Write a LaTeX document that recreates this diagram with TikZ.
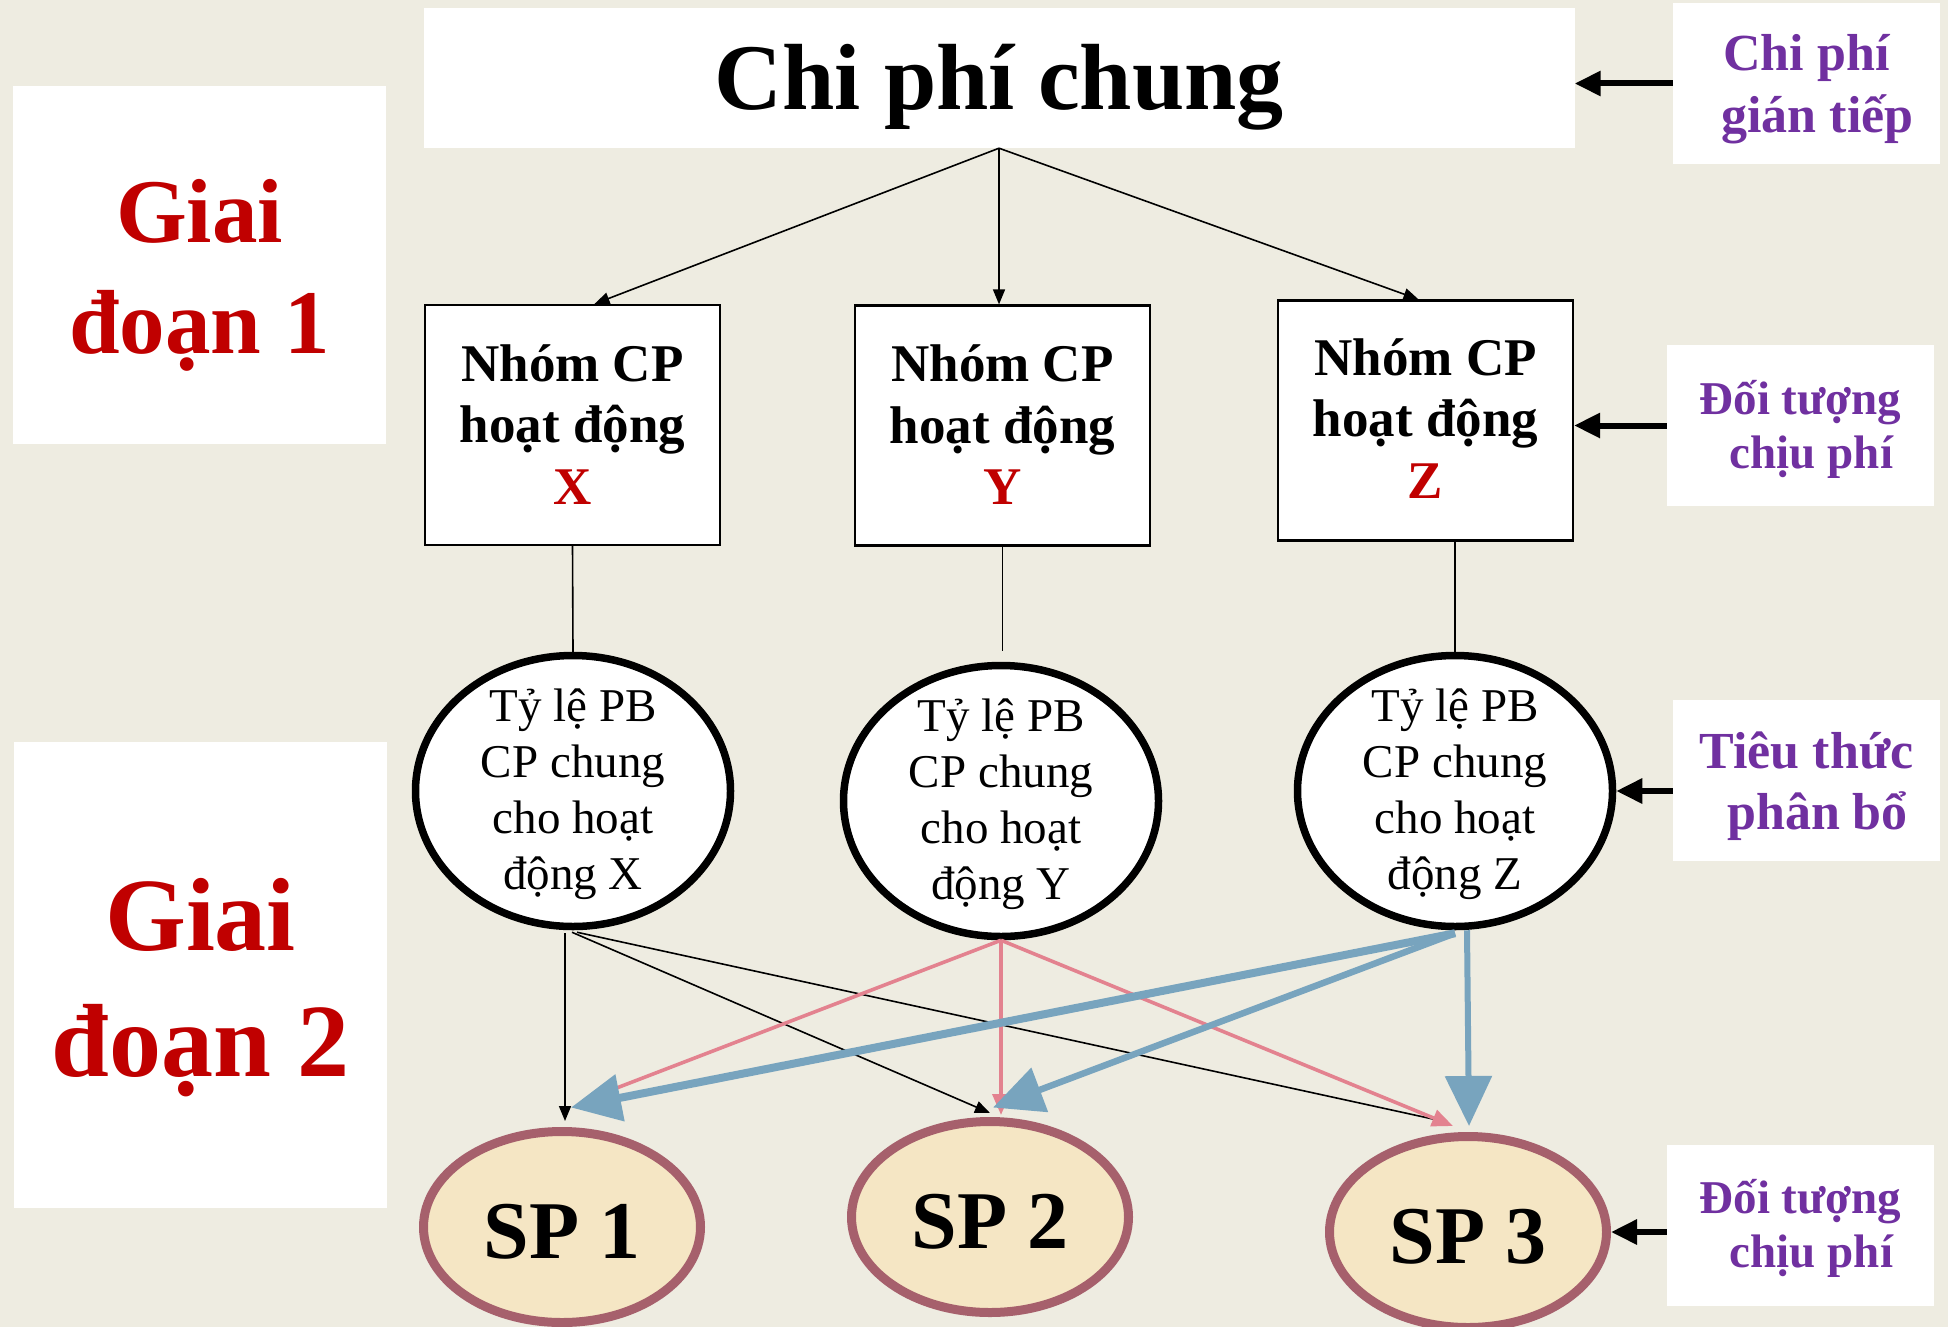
\documentclass[tikz,border=0pt]{standalone}
\usepackage{fontspec}
\setmainfont{Liberation Serif}
\usetikzlibrary{shapes.geometric,arrows.meta,calc}
\definecolor{pagetan}{HTML}{EEECE1}
\definecolor{stagered}{HTML}{C00000}
\definecolor{notepurple}{HTML}{7030A0}
\definecolor{prodfill}{HTML}{F5E6C4}
\definecolor{prodedge}{HTML}{A6606C}
\definecolor{linkpink}{HTML}{E3828F}
\definecolor{linkblue}{HTML}{78A4BE}
\newcommand\fsz[2]{\fontsize{#1pt}{#2pt}\selectfont}
% indent for the second line of the side notes
\newcommand\noteindent{\hspace*{22pt}}

\begin{document}
\begin{tikzpicture}[x=1pt,y=-1pt,
  % the last baseline of a multi-line text sits half of #1 below the node centre
  lastbase/.style={text height=#1, text depth=0pt},
  stagebox/.style={fill=white, inner sep=0pt, minimum width=373pt, align=center,
    text=stagered, font=\bfseries},
  notebox/.style={fill=white, inner sep=0pt, minimum width=267pt, minimum height=161pt,
    align=center, text=notepurple, font=\bfseries},
  poolbox/.style={draw, line width=2.2pt, fill=white, inner sep=0pt, minimum width=295pt,
    minimum height=240pt, align=center, font=\bfseries\fsz{53}{61.5}, lastbase=158pt},
  ratebubble/.style={ellipse, draw, line width=7.5pt, fill=white, inner xsep=0pt,
    inner ysep=-12pt, minimum width=315pt, minimum height=271pt, align=center,
    font=\fsz{47}{56}, lastbase=196pt},
  product/.style={ellipse, draw=prodedge, line width=9pt, fill=prodfill, inner sep=0pt,
    minimum width=277pt, minimum height=191pt, font=\bfseries\fsz{82}{98},
    text height=62pt, text depth=0pt},
  flowarrow/.style={line width=1.6pt, -{Triangle[length=15pt,width=12pt]}},
  plainlink/.style={line width=1.6pt},
  pinkarrow/.style={linkpink, line width=3.6pt, -{Triangle[length=21pt,width=17pt]}},
  bluearrow/.style={linkblue, -{Triangle[length=50pt,width=46pt]}},
  notearrow/.style={line width=6pt, -{Triangle[length=26pt,width=24pt]}}
]
\useasboundingbox (0,0) rectangle (1948,1327);
\fill[pagetan] (0,0) rectangle (1948,1327);

% stage labels on the left
\node[stagebox, minimum height=358pt, lastbase=176pt, font=\bfseries\fsz{91}{111}]
  (st1) at (199.5,265) {Giai\\đoạn 1};
\node[stagebox, minimum height=466pt, lastbase=202pt, font=\bfseries\fsz{104}{126}]
  (st2) at (200.5,975) {Giai\\đoạn 2};

% overhead cost pool
\node[fill=white, inner sep=0pt, minimum width=1151pt, minimum height=140pt,
  font=\bfseries\fsz{94}{110}, text height=64pt, text depth=0pt]
  (top) at (999,78) {Chi phí chung};

% side notes
\node[notebox, lastbase=97pt, font=\bfseries\fsz{52}{62}] (n1) at (1806.5,83.5)
  {Chi phí\\\noteindent gián tiếp};
\node[notebox, lastbase=85pt, font=\bfseries\fsz{47}{54}] (n2) at (1800.5,425.5)
  {Đối tượng\\\noteindent chịu phí};
\node[notebox, lastbase=97pt, font=\bfseries\fsz{52}{61}] (n3) at (1806.5,780.5)
  {Tiêu thức\\\noteindent phân bổ};
\node[notebox, lastbase=84pt, font=\bfseries\fsz{47}{54}] (n4) at (1800.5,1225.5)
  {Đối tượng\\\noteindent chịu phí};

% activity cost pools
\node[poolbox] (px) at (572.5,425) {Nhóm CP\\hoạt động\\\textcolor{stagered}{X}};
\node[poolbox] (py) at (1002.5,425.5) {Nhóm CP\\hoạt động\\\textcolor{stagered}{Y}};
\node[poolbox, lastbase=155pt] (pz) at (1425.5,420.5) {Nhóm CP\\hoạt động\\\textcolor{stagered}{Z}};

% allocation rates
\node[ratebubble] (rx) at (573,791) {Tỷ lệ PB\\CP chung\\cho hoạt\\động X};
\node[ratebubble] (ry) at (1001,801) {Tỷ lệ PB\\CP chung\\cho hoạt\\động Y};
\node[ratebubble] (rz) at (1455,791) {Tỷ lệ PB\\CP chung\\cho hoạt\\động Z};

% products
\node[product] (s1) at (562,1227) {SP 1};
\node[product] (s2) at (990,1217) {SP 2};
\node[product] (s3) at (1468,1232) {SP 3};

% stage 1 flows
\draw[flowarrow] (top.south) -- ($(px.north)+(22,0)$);
\draw[flowarrow] (top.south) -- (top.south |- py.north);
\draw[flowarrow] (top.south) -- ($(pz.north)+(-7,0)$);

\draw[plainlink] (px.south) -- (rx.north);
\draw[plainlink, shorten >=11pt] (py.south) -- (py.south |- ry.north);
\draw[plainlink] (rz.north |- pz.south) -- (rz.north);

% stage 2 flows: activity X
\draw[flowarrow] ($(rx.south)+(-8,3)$) -- ($(s1.north)+(3,-6)$);
\draw[flowarrow] ($(rx.south)+(-1,2)$) -- ($(s2.north)+(0,-4)$);
\draw[plainlink] ($(rx.south)+(4,2)$) -- ($(s3.north)+(-26,-11)$);

% activity Y
\draw[pinkarrow] (ry.south) -- ($(s1.north)+(26,-28)$);
\draw[pinkarrow] (ry.south) -- ($(ry.south |- s2.north)+(0,-2)$);
\draw[pinkarrow] (ry.south) -- ($(s3.north)+(-15,-6)$);

% activity Z
\draw[bluearrow, line width=8pt] ($(rz.south)+(0,3)$) -- ($(s1.north)+(9,-19.5)$);
\draw[bluearrow, line width=6.5pt] ($(rz.south)+(0,3)$) -- ($(s2.north)+(3,-9.5)$);
\draw[bluearrow, line width=6pt] ($(rz.south)+(12,0)$) -- ($(s3.north)+(1,-6)$);

% side note pointers
\draw[notearrow] (n1.west) -- (top.east |- n1.west);
\draw[notearrow] (n2.west) -- (pz.east |- n2.west);
\draw[notearrow] (n3.west |- rz.east) -- (rz.east);
\draw[notearrow] (n4.west |- s3.east) -- (s3.east);
\end{tikzpicture}
\end{document}
